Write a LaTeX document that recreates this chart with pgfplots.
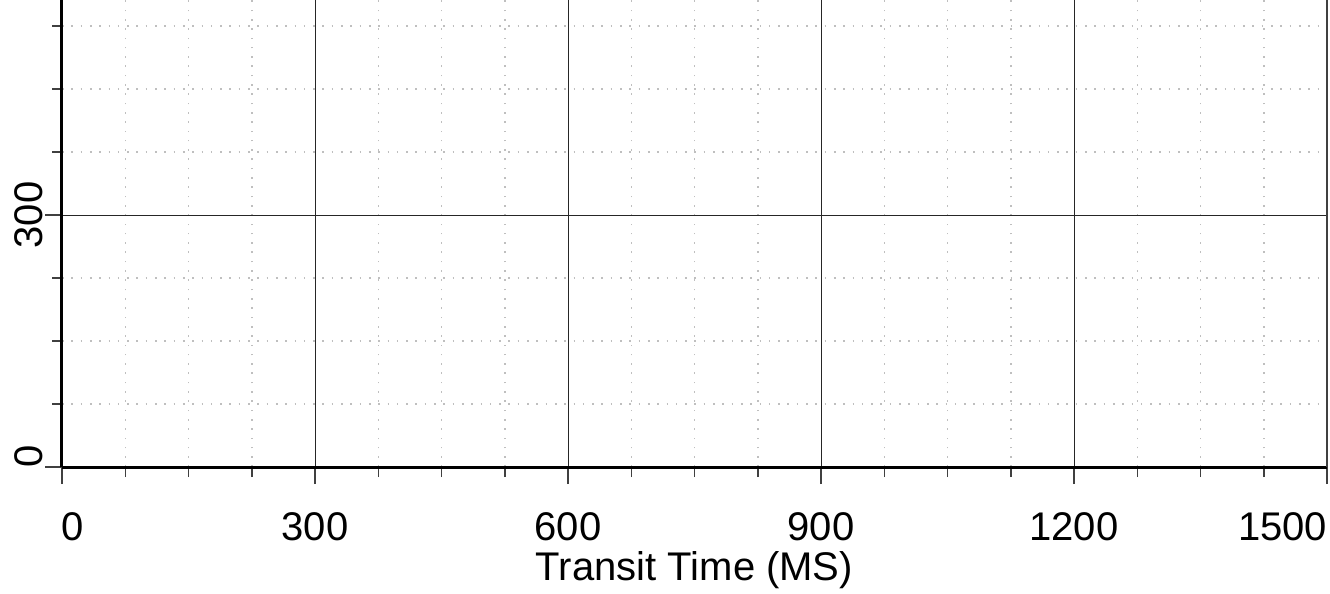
\documentclass[border=0pt]{standalone}
\usepackage{fontspec}
\setmainfont{Liberation Sans}
\usepackage{pgfplots}
\pgfplotsset{compat=1.18}

\begin{document}
\begin{tikzpicture}
\begin{axis}[
    scale only axis,
    width=632.5bp, height=233.5bp,
    xmin=0, xmax=1500, ymin=0, ymax=556,
    axis x line*=bottom, axis y line*=left,
    axis line style={black, line width=1.5bp},
    tick align=outside,
    major tick length=8.5bp, minor tick length=5bp,
    every tick/.style={black!75, line width=0.75bp},
    xtick={0,300,...,1500}, ytick={0,300,600},
    minor tick num=3,
    xticklabels={\makebox[0pt][l]{0},300,600,900,1200,\makebox[0pt][r]{1500}},
    yticklabels={\makebox[0pt][l]{0},300,600},
    font=\fontsize{20bp}{24bp}\selectfont,
    ticklabel style={font=\fontsize{20bp}{24bp}\selectfont},
    xticklabel style={anchor=north, inner sep=0pt, yshift=-14bp},
    yticklabel style={rotate=90, anchor=south, inner sep=0pt, yshift=1bp},
    xlabel={Transit Time (MS)},
    xlabel style={inner sep=0pt, anchor=north, yshift=-5bp},
    grid=both,
    major grid style={black!85, line width=0.5bp},
    minor grid style={black!25, line width=0.75bp, dash pattern=on 0.8bp off 3.85bp},
    clip=false,
]
\addplot[draw=none, forget plot] coordinates {(0,0) (1500,556)};
\draw[black!75, line width=0.75bp] (rel axis cs:1,0) -- (rel axis cs:1,1);
\coordinate (O) at (rel axis cs:0,0);
\end{axis}
\pgfresetboundingbox
\path[use as bounding box] ([xshift=-31bp,yshift=-63.5bp]O) rectangle ([xshift=634bp,yshift=233.5bp]O);
\end{tikzpicture}
\end{document}
